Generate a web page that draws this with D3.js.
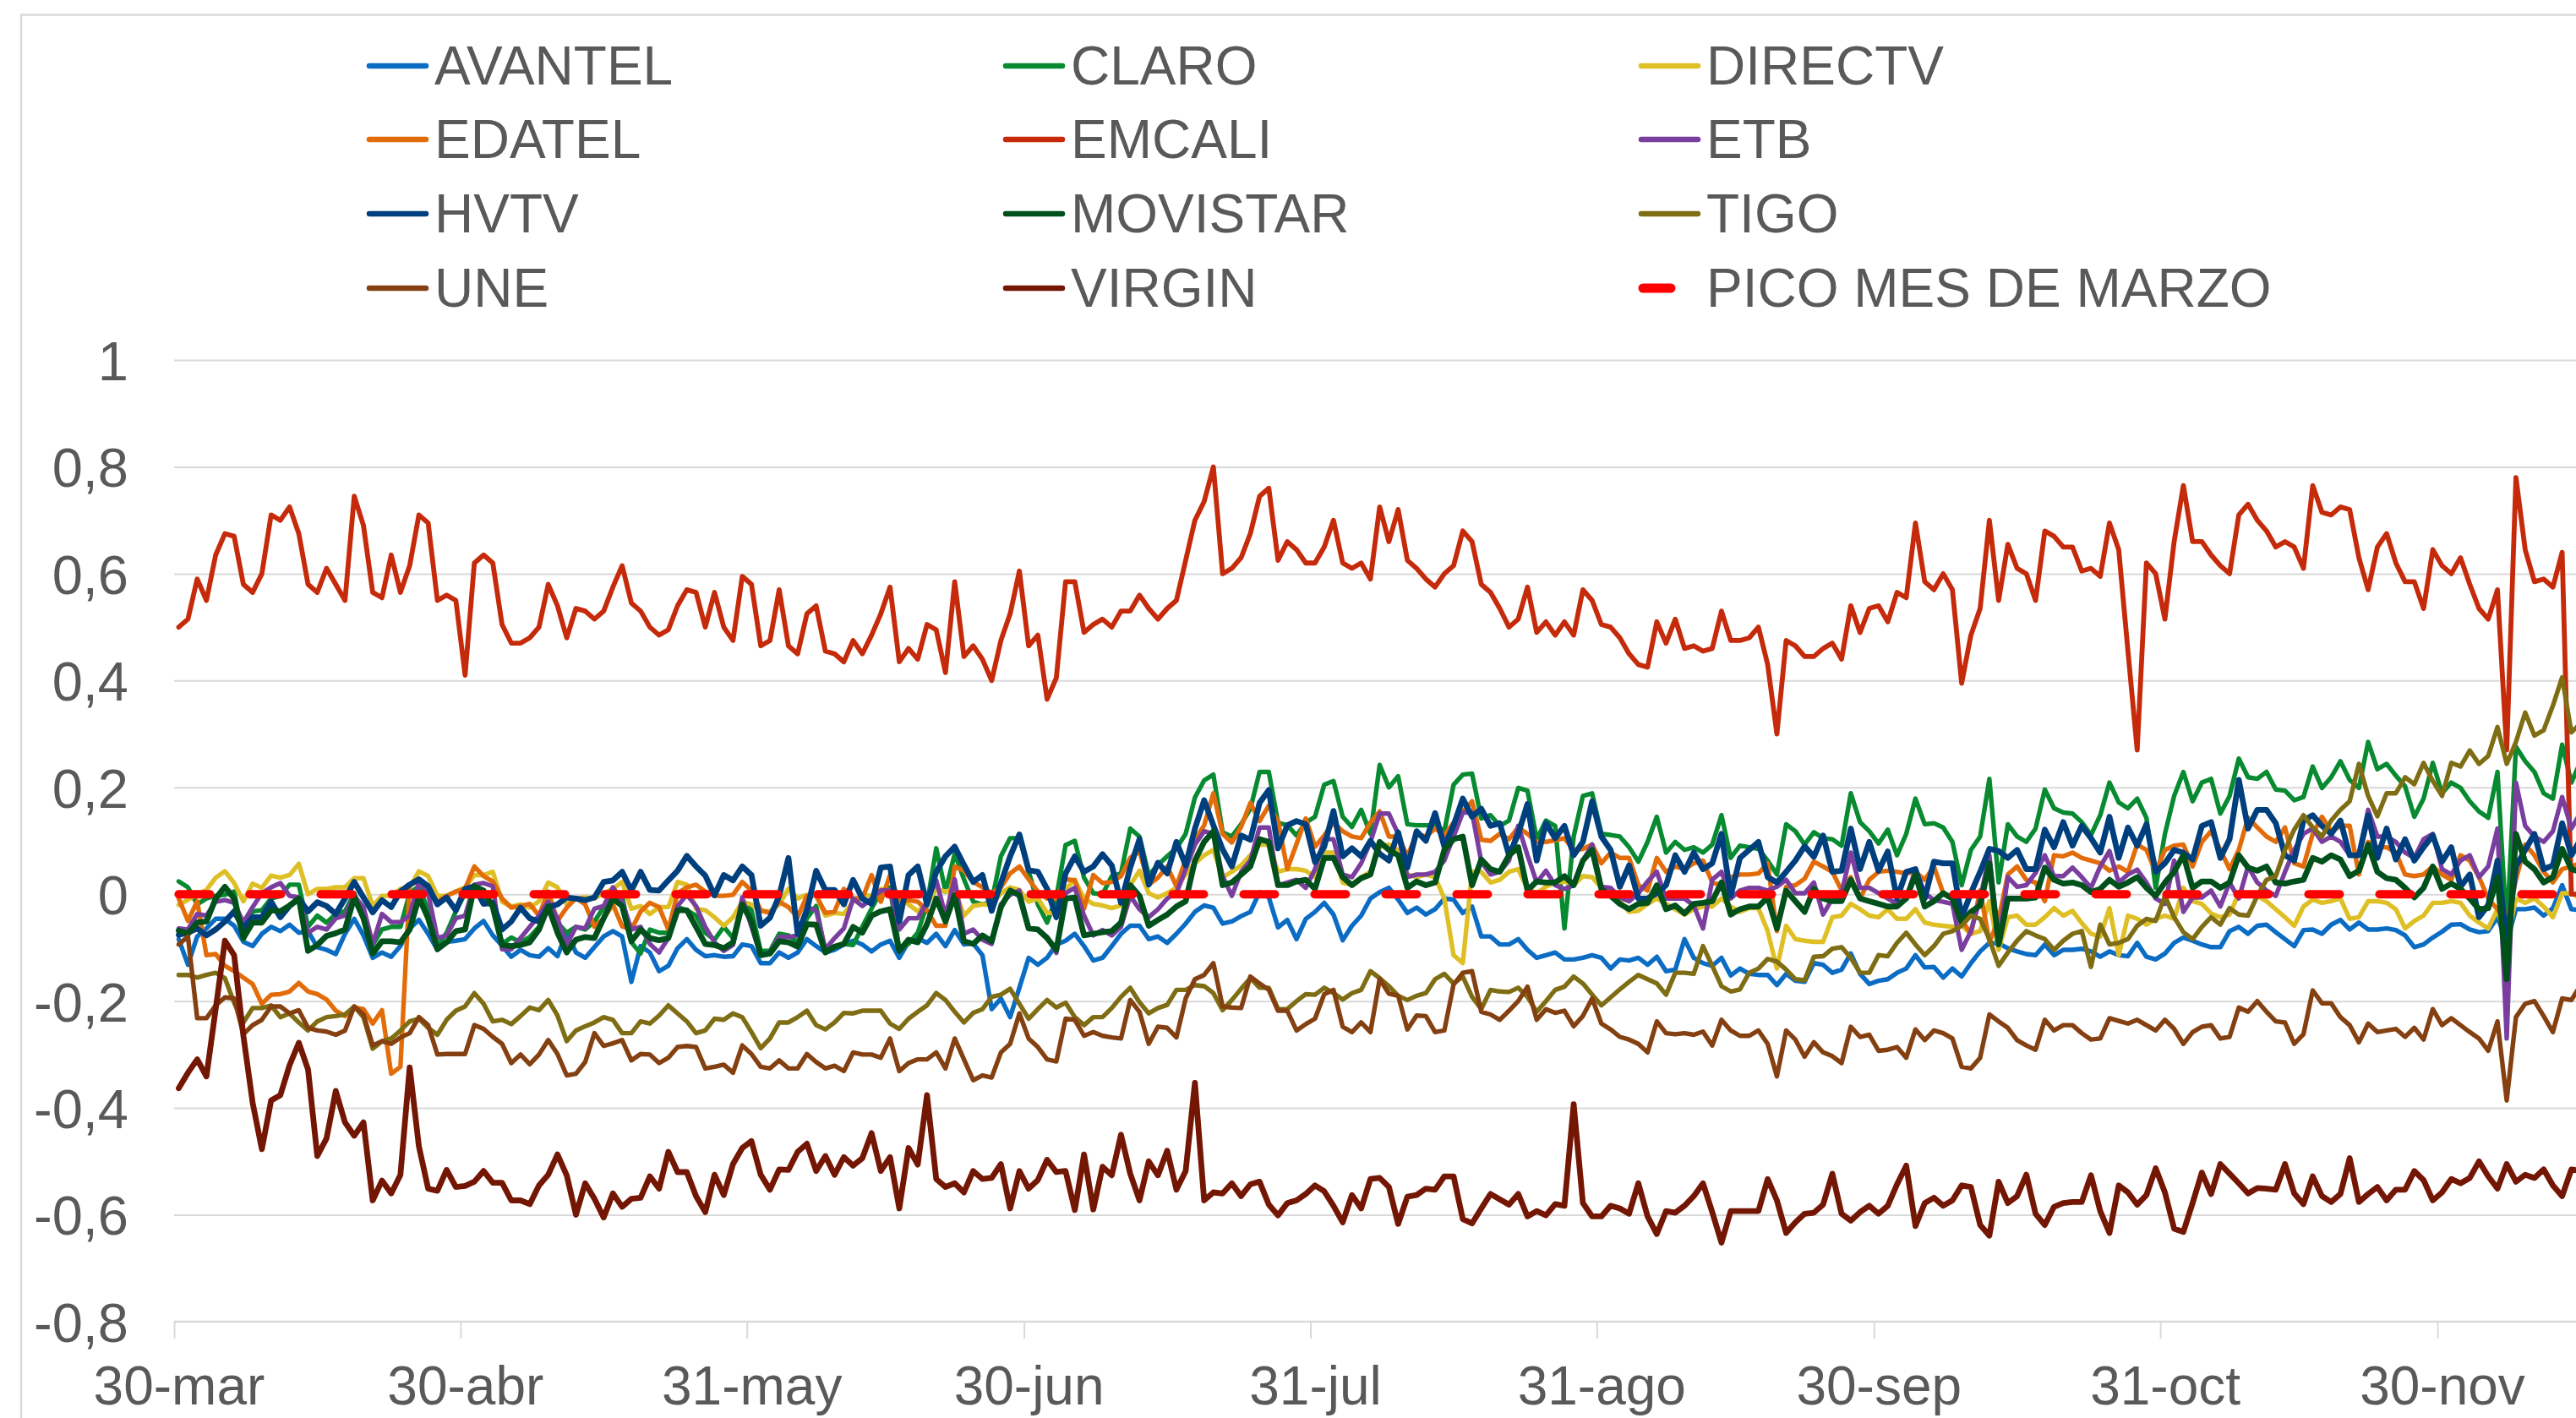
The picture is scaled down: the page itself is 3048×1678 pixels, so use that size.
<!DOCTYPE html>
<html><head><meta charset="utf-8">
<script src="https://cdn.jsdelivr.net/npm/d3@7"></script>
<style>html,body{margin:0;padding:0;background:#fff;overflow:hidden}svg{display:block}</style>
</head><body>
<svg id="chart" width="3048" height="1678"></svg>
<script>
// ---------------- DATA ----------------
const startDate = "2020-03-30";
const endDate = "2020-12-15";
const xTickDates = ["2020-03-30","2020-04-30","2020-05-31","2020-06-30","2020-07-31","2020-08-31","2020-09-30","2020-10-31","2020-11-30"];
const xTickLabels = ["30-mar","30-abr","31-may","30-jun","31-jul","31-ago","30-sep","31-oct","30-nov"];
const yTicks = [-0.8,-0.6,-0.4,-0.2,0,0.2,0.4,0.6,0.8,1];
const yTickLabels = ["-0,8","-0,6","-0,4","-0,2","0","0,2","0,4","0,6","0,8","1"];
const seriesNames = ["AVANTEL","CLARO","DIRECTV","EDATEL","EMCALI","ETB","HVTV","MOVISTAR","TIGO","UNE","VIRGIN","PICO MES DE MARZO"];
const picoMarzo = 0;

const AVANTEL = [
-0.084,-0.132,-0.079,-0.064,-0.046,-0.046,-0.059,-0.089,-0.097,-0.074,
-0.061,-0.069,-0.057,-0.072,-0.069,-0.099,-0.104,-0.112,-0.074,-0.046,
-0.077,-0.119,-0.109,-0.117,-0.097,-0.064,-0.048,-0.074,-0.104,-0.089,
-0.087,-0.084,-0.064,-0.05,-0.077,-0.096,-0.117,-0.104,-0.114,-0.117,
-0.101,-0.116,-0.071,-0.109,-0.119,-0.099,-0.079,-0.069,-0.079,-0.164,
-0.097,-0.109,-0.144,-0.134,-0.101,-0.084,-0.104,-0.116,-0.114,-0.117,
-0.116,-0.094,-0.097,-0.129,-0.129,-0.109,-0.119,-0.109,-0.084,-0.097,
-0.109,-0.104,-0.094,-0.087,-0.094,-0.107,-0.094,-0.087,-0.119,-0.089,
-0.082,-0.091,-0.074,-0.097,-0.067,-0.094,-0.092,-0.114,-0.215,-0.195,
-0.23,-0.175,-0.119,-0.132,-0.119,-0.094,-0.087,-0.074,-0.097,-0.124,
-0.119,-0.097,-0.074,-0.059,-0.059,-0.084,-0.079,-0.091,-0.074,-0.055,
-0.033,-0.021,-0.025,-0.055,-0.051,-0.041,-0.033,0.004,-0.006,-0.062,
-0.048,-0.084,-0.046,-0.033,-0.016,-0.038,-0.086,-0.059,-0.04,-0.008,
0.004,0.012,-0.01,-0.035,-0.025,-0.038,-0.028,-0.008,-0.01,-0.035,
-0.023,-0.079,-0.079,-0.094,-0.094,-0.084,-0.104,-0.119,-0.114,-0.109,
-0.122,-0.122,-0.119,-0.114,-0.119,-0.139,-0.122,-0.124,-0.119,-0.132,
-0.117,-0.144,-0.141,-0.084,-0.119,-0.129,-0.134,-0.119,-0.152,-0.139,
-0.149,-0.151,-0.151,-0.17,-0.149,-0.162,-0.164,-0.129,-0.132,-0.147,
-0.141,-0.111,-0.149,-0.168,-0.162,-0.159,-0.147,-0.139,-0.114,-0.137,
-0.136,-0.156,-0.139,-0.154,-0.129,-0.107,-0.091,-0.092,-0.101,-0.107,
-0.112,-0.114,-0.094,-0.114,-0.104,-0.104,-0.102,-0.107,-0.117,-0.107,
-0.114,-0.116,-0.091,-0.117,-0.122,-0.111,-0.091,-0.081,-0.087,-0.094,
-0.099,-0.099,-0.069,-0.061,-0.074,-0.059,-0.057,-0.071,-0.084,-0.097,
-0.067,-0.066,-0.074,-0.057,-0.048,-0.066,-0.053,-0.066,-0.066,-0.064,
-0.067,-0.077,-0.099,-0.094,-0.081,-0.07,-0.057,-0.056,-0.066,-0.071,
-0.069,-0.043,-0.089,-0.028,-0.028,-0.025,-0.04,-0.026,0.017,-0.028,
-0.03];

const CLARO = [
0.024,0.013,-0.019,-0.008,-0.003,-0.001,0.005,-0.085,-0.032,-0.03,
-0.008,-0.003,0.018,0.018,-0.061,-0.04,-0.053,-0.037,-0.032,0.002,
-0.04,-0.095,-0.066,-0.061,-0.061,0.002,0.015,-0.03,-0.098,-0.072,
-0.032,0.002,0.013,-0.003,-0.024,-0.093,-0.081,-0.09,-0.08,-0.061,
-0.024,-0.053,-0.072,-0.061,-0.066,-0.051,-0.024,-0.008,-0.003,-0.09,
-0.111,-0.066,-0.072,-0.072,-0.024,-0.03,-0.04,-0.072,-0.085,-0.061,
-0.082,-0.014,-0.03,-0.106,-0.106,-0.074,-0.077,-0.09,-0.045,-0.022,
-0.109,-0.098,-0.093,-0.095,-0.061,-0.027,0.005,0.013,-0.103,-0.093,
-0.072,-0.019,0.086,0.005,0.076,0.028,-0.014,-0.019,-0.014,0.071,
0.105,0.105,0.044,-0.019,-0.053,-0.006,0.092,0.1,0.031,0.002,
0,0.034,0.039,0.123,0.108,0.036,0.055,0.071,0.086,0.113,
0.181,0.213,0.224,0.116,0.108,0.131,0.16,0.229,0.229,0.134,
0.129,0.11,0.134,0.145,0.205,0.212,0.145,0.126,0.158,0.113,
0.242,0.2,0.221,0.131,0.129,0.129,0.129,0.118,0.205,0.224,
0.226,0.142,0.148,0.128,0.138,0.199,0.194,0.103,0.138,0.128,
-0.064,0.108,0.184,0.189,0.113,0.111,0.108,0.088,0.061,0.098,
0.145,0.078,0.098,0.083,0.088,0.078,0.093,0.148,0.068,0.091,
0.088,0.085,0.063,0.037,0.131,0.118,0.093,0.116,0.105,0.103,
0.091,0.189,0.135,0.118,0.095,0.121,0.073,0.113,0.179,0.131,
0.133,0.125,0.098,0.017,0.083,0.108,0.216,0.022,0.131,0.108,
0.098,0.123,0.196,0.161,0.153,0.151,0.135,0.111,0.148,0.209,
0.172,0.161,0.179,0.143,0.012,0.113,0.184,0.229,0.174,0.209,
0.216,0.151,0.184,0.254,0.219,0.216,0.229,0.196,0.194,0.176,
0.182,0.239,0.199,0.219,0.249,0.214,0.199,0.285,0.234,0.244,
0.222,0.202,0.145,0.179,0.246,0.189,0.209,0.199,0.174,0.155,
0.143,0.229,-0.069,0.276,0.249,0.229,0.189,0.179,0.28,0.209,
0.249];

const DIRECTV = [
-0.02,-0.01,0,0.008,0.031,0.043,0.021,-0.013,0.02,0.012,
0.035,0.031,0.036,0.057,0,0.01,0.01,0.013,0.013,0.03,
0.03,-0.022,-0.003,-0.003,0.01,0.013,0.043,0.034,-0.003,-0.003,
0.005,0.013,0.036,0.036,0.042,-0.014,-0.023,-0.019,-0.025,-0.013,
0.022,0.013,-0.019,-0.008,-0.006,-0.008,0.002,0.01,0.023,-0.027,
-0.022,-0.037,-0.024,-0.024,0.023,0.018,-0.027,-0.03,-0.043,-0.059,
-0.043,-0.014,-0.019,-0.032,-0.032,-0.019,0.01,-0.008,-0.001,-0.001,
-0.04,-0.035,-0.037,-0.014,-0.001,-0.003,0.01,0.007,-0.003,-0.019,
-0.032,-0.019,0.01,0.005,0.01,-0.04,-0.022,-0.019,-0.019,0.002,
0.013,0.008,-0.014,-0.008,-0.035,-0.035,0.01,0.027,-0.008,-0.018,
-0.021,-0.026,-0.021,0.017,0.044,0.002,-0.006,0.002,0.012,0.037,
0.058,0.073,0.083,0.032,0.042,0.054,0.073,0.093,0.093,0.042,
0.047,0.047,0.044,0.032,0.078,0.078,0.022,0.017,0.032,0.042,
0.088,0.093,0.083,0.037,0.032,0.037,0.032,-0.008,-0.114,-0.129,
0.042,0.042,0.022,0.027,0.042,0.047,0.01,0.002,0.014,0.022,
0.024,0.017,0.034,0.032,0.012,0.004,-0.013,-0.033,-0.031,-0.018,
-0.008,-0.018,-0.028,-0.038,-0.028,-0.023,-0.023,-0.008,-0.023,-0.033,
-0.026,-0.026,-0.069,-0.139,-0.059,-0.084,-0.087,-0.089,-0.089,-0.043,
-0.04,-0.018,-0.028,-0.04,-0.043,-0.028,-0.046,-0.046,-0.028,-0.053,
-0.057,-0.059,-0.061,-0.059,-0.074,-0.069,-0.013,-0.104,-0.043,-0.04,
-0.057,-0.057,-0.043,-0.026,-0.04,-0.031,-0.054,-0.074,-0.079,-0.026,
-0.114,-0.04,-0.046,-0.057,-0.046,-0.04,-0.046,0.012,-0.013,-0.018,
-0.036,-0.043,-0.038,0.002,-0.003,-0.003,-0.013,-0.028,-0.043,-0.059,
-0.023,-0.01,-0.016,-0.013,-0.008,-0.046,-0.043,-0.013,-0.013,-0.016,
-0.028,-0.064,-0.05,-0.04,-0.016,-0.016,-0.013,-0.016,-0.04,-0.053,
-0.064,-0.028,-0.089,-0.008,-0.016,-0.008,-0.023,-0.043,0.002,0.002,
-0.008];

const EDATEL = [
-0.008,-0.05,-0.013,-0.114,-0.112,-0.134,-0.144,-0.156,-0.168,-0.205,
-0.188,-0.187,-0.182,-0.166,-0.182,-0.187,-0.197,-0.218,-0.228,-0.212,
-0.215,-0.242,-0.217,-0.336,-0.323,0.018,0.025,0.002,-0.014,-0.003,
0.005,0.01,0.052,0.034,0.024,-0.008,-0.025,-0.022,-0.018,-0.04,
0.005,-0.05,-0.025,-0.007,-0.019,-0.061,-0.045,-0.019,-0.06,-0.066,
-0.032,-0.016,-0.024,-0.066,0.002,0.013,0.018,0.005,-0.003,-0.003,
-0.001,0.023,0.007,-0.03,-0.035,-0.014,-0.024,-0.043,-0.003,-0.003,
-0.035,-0.032,0.01,-0.008,-0.008,0.036,-0.014,0.036,-0.016,-0.011,
-0.014,-0.03,-0.059,-0.059,0.052,0.044,0.023,0.013,0.002,0.013,
0.039,0.052,0.028,0.005,-0.008,-0.008,0.028,0.026,-0.027,0.036,
0.021,0.023,0.034,0.068,0.081,0.018,0.031,0.052,0.015,0.065,
0.102,0.129,0.189,0.113,0.097,0.126,0.171,0.137,0.166,0.137,
0.047,0.094,0.142,0.089,0.11,0.134,0.118,0.108,0.105,0.134,
0.155,0.108,0.108,0.071,0.113,0.108,0.123,0.11,0.134,0.155,
0.174,0.102,0.1,0.113,0.103,0.125,0.113,0.098,0.098,0.101,
0.105,0.083,0.085,0.093,0.058,0.078,0.068,0.068,0.017,0.007,
0.068,0.042,0.052,0.047,0.058,0.063,0.022,0.017,0.032,0.037,
0.037,0.039,0.058,-0.069,0.014,0.017,0.029,0.061,0.052,0.042,
0.007,0.032,-0.008,0.027,0.042,0.044,0.042,0.039,0.042,0.027,
0.052,0.002,-0.008,-0.048,-0.074,0.007,-0.089,-0.048,0.037,0.052,
0.027,0.022,-0.013,0.073,0.071,0.078,0.068,0.063,0.058,0.044,
0.052,0.042,0.093,0.083,0.042,0.083,0.091,0.093,0.052,0.098,
0.118,0.083,0.047,0.083,0.143,0.125,0.108,0.098,0.125,0.058,
0.052,0.113,0.145,0.118,0.128,0.128,0.037,0.098,0.088,0.088,
0.078,0.037,0.034,0.037,0.052,0.037,0.027,0.073,0.063,0.032,
-0.008,-0.028,-0.053,0.027,0.093,0.073,0.042,0.022,0.047,0.052,
0.058];

const EMCALI = [
0.5,0.515,0.59,0.55,0.635,0.675,0.67,0.58,0.565,0.6,
0.71,0.7,0.725,0.675,0.58,0.565,0.61,0.58,0.55,0.745,
0.69,0.565,0.555,0.635,0.565,0.615,0.71,0.695,0.55,0.56,
0.55,0.41,0.62,0.635,0.62,0.505,0.47,0.47,0.48,0.5,
0.58,0.54,0.48,0.535,0.53,0.515,0.53,0.575,0.615,0.545,
0.53,0.5,0.485,0.495,0.54,0.57,0.565,0.5,0.565,0.5,
0.475,0.595,0.58,0.465,0.475,0.57,0.465,0.45,0.525,0.54,
0.455,0.45,0.435,0.475,0.45,0.485,0.525,0.575,0.435,0.46,
0.44,0.505,0.495,0.415,0.585,0.445,0.465,0.44,0.4,0.475,
0.525,0.605,0.465,0.485,0.365,0.405,0.585,0.585,0.49,0.505,
0.515,0.5,0.53,0.53,0.56,0.535,0.515,0.535,0.55,0.625,
0.7,0.735,0.8,0.6,0.61,0.63,0.675,0.745,0.76,0.625,
0.66,0.645,0.62,0.62,0.65,0.7,0.62,0.61,0.62,0.59,
0.725,0.66,0.72,0.625,0.61,0.59,0.575,0.6,0.615,0.68,
0.66,0.58,0.565,0.535,0.5,0.515,0.575,0.49,0.51,0.485,
0.51,0.485,0.57,0.55,0.505,0.5,0.48,0.45,0.43,0.425,
0.51,0.47,0.515,0.46,0.465,0.455,0.46,0.53,0.475,0.475,
0.48,0.5,0.43,0.3,0.475,0.465,0.445,0.445,0.46,0.47,
0.44,0.54,0.49,0.535,0.54,0.51,0.565,0.555,0.695,0.585,
0.57,0.6,0.57,0.395,0.485,0.535,0.7,0.55,0.655,0.61,
0.6,0.55,0.68,0.67,0.65,0.65,0.605,0.61,0.595,0.695,
0.645,0.455,0.27,0.62,0.6,0.515,0.66,0.765,0.66,0.66,
0.635,0.615,0.6,0.71,0.73,0.7,0.68,0.65,0.66,0.65,
0.61,0.765,0.715,0.71,0.725,0.72,0.63,0.57,0.65,0.675,
0.62,0.585,0.585,0.535,0.645,0.615,0.6,0.63,0.58,0.535,
0.515,0.57,0.27,0.78,0.645,0.585,0.59,0.575,0.64,0,
0];

const ETB = [
-0.064,-0.066,-0.037,-0.04,-0.014,-0.011,-0.016,-0.053,-0.024,0.002,
0.013,0.021,-0.003,-0.006,-0.072,-0.061,-0.066,-0.045,-0.04,-0.003,
-0.024,-0.093,-0.037,-0.052,-0.052,-0.04,0.023,0.002,-0.082,-0.077,
-0.045,-0.04,0.018,0.021,0.015,-0.103,-0.103,-0.082,-0.061,-0.04,
-0.014,-0.045,-0.095,-0.061,-0.064,-0.027,-0.022,0.013,-0.014,-0.066,
-0.061,-0.093,-0.109,-0.082,-0.022,-0.001,-0.022,-0.061,-0.09,-0.106,
-0.095,-0.006,-0.061,-0.114,-0.109,-0.08,-0.08,-0.077,-0.024,-0.03,
-0.103,-0.082,-0.064,-0.008,-0.022,-0.008,0.007,0.007,-0.066,-0.045,
-0.045,-0.014,0.026,-0.04,0.028,-0.074,-0.066,-0.085,-0.093,-0.019,
-0.001,0.007,-0.064,-0.066,-0.08,-0.11,0.002,0.012,-0.04,-0.077,
-0.067,-0.077,-0.061,-0.003,-0.028,-0.043,-0.028,-0.008,0.002,0.047,
0.093,0.118,0.113,0.034,-0.003,0.042,0.063,0.125,0.125,0.017,
0.022,0.027,0.012,0.047,0.103,0.103,0.037,0.032,0.058,0.098,
0.151,0.151,0.113,0.032,0.037,0.037,0.042,0.063,0.108,0.153,
0.153,0.061,0.037,0.042,0.063,0.128,0.073,0.022,0.044,0.017,
0.01,0.017,0.063,0.093,0.014,0.012,-0.006,-0.013,0.002,0.024,
0.042,-0.008,-0.008,-0.008,-0.021,-0.064,0.027,0.042,-0.008,0.007,
0.012,0.012,0.007,0.014,0.027,0.002,0.002,0.022,-0.038,-0.008,
0.002,0.078,0.012,0.012,0.002,-0.008,-0.018,-0.008,0.047,0.002,
-0.011,-0.014,-0.018,-0.104,-0.069,-0.008,0.073,-0.089,0.032,0.014,
0.017,0.04,0.073,0.034,0.034,0.05,0.032,0.012,0.052,0.081,
0.022,0.037,0.046,0.022,-0.008,-0.018,0.063,-0.033,-0.006,-0.006,
0.007,-0.023,0.022,-0.008,0.052,0.022,0.007,-0.003,0.042,0.083,
0.113,0.123,0.098,0.108,0.098,0.073,0.073,0.158,0.108,0.108,
0.098,0.078,0.068,0.103,0.113,0.047,0.037,0.063,0.073,0.032,
0.052,0.123,-0.27,0.209,0.128,0.108,0.098,0.118,0.182,0.123,
0.153];

const HVTV = [
-0.076,-0.072,-0.064,-0.077,-0.066,-0.051,-0.032,-0.064,-0.043,-0.043,
-0.014,-0.043,-0.022,-0.008,-0.032,-0.015,-0.022,-0.037,-0.008,0.023,
-0.006,-0.034,-0.011,-0.024,0.005,0.018,0.028,0.015,-0.019,-0.006,
-0.03,0.01,0.015,-0.018,-0.016,-0.066,-0.051,-0.025,-0.045,-0.051,
-0.024,-0.019,-0.006,-0.008,-0.011,-0.006,0.023,0.026,0.042,0.007,
0.042,0.008,0.007,0.026,0.044,0.072,0.052,0.035,-0.002,0.036,
0.026,0.052,0.036,-0.059,-0.044,-0.003,0.068,-0.074,-0.03,0.044,
0.008,0.008,-0.019,0.027,-0.008,-0.018,0.05,0.052,-0.051,0.036,
0.052,-0.019,0.042,0.071,0.089,0.055,0.023,0.036,-0.031,0.021,
0.071,0.112,0.045,0.042,0.01,-0.043,0.039,0.071,0.042,0.052,
0.075,0.054,-0.016,0.05,0.103,0.018,0.059,0.039,0.098,0.054,
0.123,0.176,0.129,0.084,0.052,0.11,0.102,0.171,0.195,0.086,
0.129,0.137,0.131,0.06,0.089,0.156,0.071,0.086,0.071,0.1,
0.076,0.063,0.116,0.05,0.118,0.1,0.152,0.089,0.129,0.179,
0.145,0.16,0.128,0.133,0.073,0.113,0.169,0.063,0.133,0.105,
0.128,0.073,0.098,0.174,0.108,0.083,0.014,0.054,-0.008,-0.008,
0.002,0.017,0.073,0.042,0.078,0.047,0.058,0.113,-0.003,0.068,
0.083,0.098,0.032,0.022,0.042,0.063,0.09,0.07,0.11,0.042,
0.044,0.123,0.047,0.098,0.044,0.08,-0.008,0.042,0.047,-0.008,
0.061,0.058,0.058,-0.043,0.002,0.042,0.085,0.081,0.068,0.083,
0.047,0.047,0.121,0.088,0.135,0.091,0.128,0.105,0.078,0.145,
0.068,0.125,0.091,0.131,0.042,0.058,0.083,0.078,0.065,0.128,
0.135,0.068,0.103,0.214,0.123,0.158,0.158,0.133,0.073,0.063,
0.138,0.148,0.128,0.113,0.138,0.073,0.073,0.148,0.068,0.123,
0.065,0.103,0.063,0.088,0.11,0.061,0.088,0.014,0.037,-0.043,
-0.02,0.063,-0.089,0.052,0.083,0.113,0.047,0.054,0.133,0.073,
0.103];

const MOVISTAR = [
-0.068,-0.074,-0.053,-0.051,-0.008,0.014,-0.008,-0.082,-0.053,-0.053,
-0.03,-0.032,-0.021,-0.008,-0.106,-0.095,-0.078,-0.073,-0.066,-0.006,
-0.045,-0.111,-0.088,-0.088,-0.09,-0.066,-0.006,-0.045,-0.103,-0.09,
-0.069,-0.066,0.015,0.007,-0.024,-0.095,-0.097,-0.095,-0.09,-0.066,
-0.023,-0.072,-0.109,-0.085,-0.08,-0.082,-0.045,-0.008,-0.022,-0.088,
-0.066,-0.082,-0.086,-0.082,-0.03,-0.03,-0.061,-0.093,-0.095,-0.101,
-0.09,-0.019,-0.051,-0.114,-0.111,-0.088,-0.09,-0.098,-0.056,-0.057,
-0.109,-0.098,-0.093,-0.061,-0.072,-0.04,-0.032,-0.028,-0.106,-0.085,
-0.09,-0.056,-0.008,-0.051,-0.002,-0.088,-0.093,-0.077,-0.088,-0.024,
0.007,-0.002,-0.064,-0.066,-0.082,-0.104,-0.008,-0.006,-0.077,-0.074,
-0.071,-0.069,-0.053,0.017,-0.003,-0.059,-0.048,-0.038,-0.023,-0.013,
0.063,0.098,0.118,0.017,0.022,0.037,0.052,0.103,0.098,0.017,
0.017,0.024,0.027,0.01,0.068,0.068,0.032,0.017,0.03,0.037,
0.098,0.083,0.073,0.012,0.024,0.017,0.022,0.083,0.103,0.108,
0.017,0.065,0.047,0.042,0.073,0.088,0.007,0.024,0.022,0.022,
0.034,0.017,0.063,0.083,0.01,-0.003,-0.018,-0.028,-0.018,-0.016,
0.017,-0.028,-0.021,-0.036,-0.018,-0.016,-0.013,0.022,-0.038,-0.028,
-0.023,-0.023,-0.006,-0.064,0.007,-0.013,-0.033,0.01,-0.008,-0.013,
-0.013,0.027,-0.008,-0.013,-0.018,-0.023,-0.023,-0.008,0.037,-0.023,
-0.013,0.002,-0.008,-0.053,-0.033,-0.021,0.058,-0.094,-0.008,-0.008,
-0.008,-0.006,0.05,0.027,0.02,0.022,0.017,0.004,0.01,0.027,
0.014,0.022,0.032,0.012,-0.003,0.022,0.042,0.073,0.012,0.024,
0.024,0.012,0.022,0.073,0.05,0.044,0.052,0.022,0.02,0.024,
0.027,0.068,0.061,0.073,0.065,0.034,0.044,0.093,0.042,0.03,
0.027,0.012,-0.006,0.012,0.052,0.01,0.02,0.01,-0.008,-0.028,
-0.026,0.032,-0.159,0.113,0.061,0.047,0.022,0.032,0.085,0.047,
0.042];

const TIGO = [
-0.151,-0.151,-0.156,-0.151,-0.147,-0.157,-0.203,-0.24,-0.213,-0.213,
-0.208,-0.23,-0.223,-0.24,-0.255,-0.238,-0.23,-0.228,-0.225,-0.21,
-0.23,-0.289,-0.275,-0.27,-0.255,-0.238,-0.233,-0.25,-0.263,-0.235,
-0.218,-0.21,-0.185,-0.205,-0.238,-0.235,-0.243,-0.228,-0.212,-0.217,
-0.198,-0.227,-0.275,-0.255,-0.247,-0.24,-0.23,-0.235,-0.26,-0.26,
-0.238,-0.242,-0.227,-0.208,-0.223,-0.238,-0.26,-0.255,-0.233,-0.235,
-0.223,-0.23,-0.258,-0.288,-0.27,-0.24,-0.24,-0.23,-0.218,-0.245,
-0.253,-0.24,-0.222,-0.223,-0.218,-0.218,-0.218,-0.242,-0.252,-0.233,
-0.22,-0.208,-0.185,-0.198,-0.22,-0.24,-0.222,-0.215,-0.192,-0.188,
-0.177,-0.205,-0.233,-0.215,-0.198,-0.212,-0.203,-0.23,-0.245,-0.23,
-0.23,-0.213,-0.192,-0.175,-0.202,-0.223,-0.213,-0.207,-0.179,-0.179,
-0.17,-0.172,-0.185,-0.217,-0.198,-0.177,-0.157,-0.175,-0.175,-0.215,
-0.215,-0.2,-0.187,-0.188,-0.175,-0.185,-0.197,-0.185,-0.179,-0.144,
-0.157,-0.172,-0.19,-0.198,-0.19,-0.185,-0.159,-0.149,-0.167,-0.154,
-0.192,-0.215,-0.179,-0.182,-0.183,-0.175,-0.192,-0.22,-0.2,-0.179,
-0.173,-0.154,-0.167,-0.188,-0.208,-0.193,-0.178,-0.164,-0.151,-0.159,
-0.167,-0.188,-0.147,-0.147,-0.149,-0.097,-0.134,-0.172,-0.182,-0.178,
-0.147,-0.139,-0.121,-0.126,-0.141,-0.159,-0.161,-0.117,-0.116,-0.102,
-0.099,-0.119,-0.147,-0.147,-0.114,-0.116,-0.091,-0.072,-0.094,-0.114,
-0.097,-0.074,-0.069,-0.059,-0.04,-0.046,-0.084,-0.134,-0.109,-0.087,
-0.069,-0.077,-0.084,-0.104,-0.087,-0.074,-0.069,-0.136,-0.057,-0.094,
-0.091,-0.084,-0.059,-0.046,-0.05,-0.003,-0.043,-0.071,-0.084,-0.061,
-0.043,-0.057,-0.026,-0.038,-0.04,-0.003,0.027,0.034,0.083,0.121,
0.148,0.125,0.108,0.138,0.158,0.174,0.244,0.184,0.146,0.189,
0.189,0.219,0.206,0.246,0.212,0.184,0.246,0.239,0.269,0.244,
0.259,0.313,0.244,0.285,0.34,0.297,0.307,0.353,0.406,0.303,
0.32];

const UNE = [
-0.094,-0.079,-0.232,-0.232,-0.208,-0.193,-0.195,-0.262,-0.245,-0.235,
-0.21,-0.21,-0.223,-0.217,-0.25,-0.255,-0.257,-0.263,-0.255,-0.21,
-0.225,-0.283,-0.275,-0.28,-0.268,-0.26,-0.23,-0.245,-0.3,-0.299,
-0.299,-0.299,-0.245,-0.252,-0.267,-0.28,-0.316,-0.3,-0.318,-0.3,
-0.273,-0.299,-0.339,-0.336,-0.314,-0.26,-0.284,-0.279,-0.273,-0.311,
-0.299,-0.3,-0.316,-0.306,-0.286,-0.284,-0.286,-0.326,-0.323,-0.319,
-0.334,-0.283,-0.299,-0.323,-0.326,-0.311,-0.326,-0.326,-0.299,-0.314,
-0.326,-0.321,-0.331,-0.296,-0.3,-0.3,-0.306,-0.27,-0.331,-0.316,
-0.309,-0.309,-0.296,-0.326,-0.27,-0.309,-0.348,-0.339,-0.343,-0.296,
-0.28,-0.223,-0.27,-0.286,-0.309,-0.313,-0.233,-0.235,-0.265,-0.258,
-0.265,-0.268,-0.27,-0.198,-0.22,-0.28,-0.248,-0.25,-0.268,-0.195,
-0.159,-0.151,-0.129,-0.21,-0.212,-0.213,-0.154,-0.167,-0.179,-0.218,
-0.218,-0.255,-0.243,-0.233,-0.187,-0.179,-0.248,-0.258,-0.24,-0.258,
-0.159,-0.186,-0.19,-0.253,-0.227,-0.228,-0.258,-0.255,-0.169,-0.147,
-0.144,-0.22,-0.225,-0.235,-0.218,-0.2,-0.173,-0.235,-0.215,-0.222,
-0.218,-0.247,-0.228,-0.195,-0.242,-0.253,-0.267,-0.272,-0.28,-0.296,
-0.238,-0.26,-0.262,-0.26,-0.263,-0.257,-0.283,-0.235,-0.255,-0.265,
-0.265,-0.255,-0.28,-0.341,-0.255,-0.272,-0.304,-0.277,-0.296,-0.303,
-0.316,-0.248,-0.267,-0.263,-0.293,-0.291,-0.286,-0.306,-0.253,-0.273,
-0.255,-0.26,-0.27,-0.323,-0.326,-0.306,-0.225,-0.238,-0.25,-0.273,
-0.283,-0.291,-0.235,-0.255,-0.245,-0.245,-0.26,-0.272,-0.27,-0.232,
-0.237,-0.242,-0.235,-0.245,-0.255,-0.235,-0.252,-0.28,-0.258,-0.248,
-0.245,-0.27,-0.267,-0.212,-0.22,-0.2,-0.22,-0.238,-0.24,-0.28,
-0.262,-0.18,-0.204,-0.204,-0.23,-0.245,-0.277,-0.242,-0.258,-0.255,
-0.252,-0.267,-0.25,-0.272,-0.215,-0.245,-0.232,-0.245,-0.258,-0.27,
-0.293,-0.238,-0.386,-0.23,-0.205,-0.2,-0.228,-0.258,-0.195,-0.198,
-0.17];

const VIRGIN = [
-0.363,-0.334,-0.309,-0.341,-0.215,-0.087,-0.114,-0.265,-0.39,-0.477,
-0.386,-0.376,-0.32,-0.278,-0.328,-0.49,-0.457,-0.368,-0.427,-0.452,
-0.427,-0.573,-0.536,-0.56,-0.525,-0.324,-0.472,-0.551,-0.555,-0.516,
-0.548,-0.546,-0.538,-0.518,-0.54,-0.54,-0.573,-0.573,-0.58,-0.545,
-0.525,-0.487,-0.526,-0.6,-0.541,-0.57,-0.605,-0.56,-0.585,-0.57,
-0.568,-0.528,-0.551,-0.482,-0.52,-0.52,-0.565,-0.595,-0.525,-0.563,
-0.505,-0.475,-0.462,-0.525,-0.553,-0.515,-0.516,-0.482,-0.467,-0.518,
-0.49,-0.525,-0.492,-0.508,-0.494,-0.447,-0.518,-0.492,-0.588,-0.475,
-0.506,-0.376,-0.533,-0.548,-0.541,-0.558,-0.518,-0.533,-0.531,-0.505,
-0.588,-0.518,-0.551,-0.535,-0.497,-0.52,-0.518,-0.591,-0.487,-0.59,
-0.51,-0.526,-0.45,-0.523,-0.573,-0.5,-0.526,-0.48,-0.553,-0.518,
-0.353,-0.573,-0.558,-0.56,-0.541,-0.565,-0.543,-0.538,-0.581,-0.601,
-0.578,-0.573,-0.561,-0.545,-0.556,-0.583,-0.614,-0.563,-0.588,-0.533,
-0.531,-0.548,-0.617,-0.566,-0.563,-0.551,-0.553,-0.528,-0.528,-0.608,
-0.616,-0.588,-0.561,-0.571,-0.581,-0.561,-0.603,-0.593,-0.601,-0.58,
-0.583,-0.393,-0.578,-0.603,-0.603,-0.583,-0.588,-0.598,-0.541,-0.603,
-0.636,-0.593,-0.596,-0.583,-0.565,-0.541,-0.595,-0.652,-0.593,-0.593,
-0.593,-0.593,-0.533,-0.573,-0.634,-0.614,-0.598,-0.596,-0.581,-0.523,
-0.598,-0.611,-0.595,-0.583,-0.598,-0.583,-0.543,-0.508,-0.621,-0.578,
-0.568,-0.583,-0.573,-0.545,-0.548,-0.619,-0.639,-0.538,-0.578,-0.565,
-0.525,-0.598,-0.619,-0.585,-0.578,-0.576,-0.576,-0.526,-0.593,-0.634,
-0.545,-0.558,-0.581,-0.563,-0.513,-0.558,-0.626,-0.632,-0.578,-0.521,
-0.561,-0.505,-0.523,-0.541,-0.56,-0.55,-0.551,-0.553,-0.505,-0.56,
-0.58,-0.528,-0.565,-0.576,-0.561,-0.494,-0.576,-0.561,-0.548,-0.573,
-0.553,-0.553,-0.518,-0.535,-0.573,-0.558,-0.533,-0.541,-0.531,-0.5,
-0.528,-0.551,-0.505,-0.538,-0.525,-0.531,-0.515,-0.545,-0.565,-0.515,
-0.518];

const seriesValues = [AVANTEL, CLARO, DIRECTV, EDATEL, EMCALI, ETB, HVTV, MOVISTAR, TIGO, UNE, VIRGIN];

// ---------------- STYLE ----------------
const W = 3048, H = 1678;
const plot = {left: 206, right: 3048, top: 426, bottom: 1564};
const colors = ["#0b6cc4","#078a30","#dfbf26","#e36c0a","#c52a0b","#7a3e9e","#003f7d","#00501c","#7f6d14","#844010","#741604","#ff0000"];
const widths = [5.4,5.4,5.4,5.4,5.8,5.4,6.8,6.8,5.4,5.4,6.8];
const textColor = "#595959";
const gridColor = "#d9d9d9";
const fontFamily = "'Liberation Sans', Arial, sans-serif";
const dash = "37,47";

const svg = d3.select("#chart");
svg.append("rect").attr("width", W).attr("height", H).attr("fill", "#fff");
// chart area border (left & top visible)
svg.append("rect").attr("x", 25).attr("y", 17.5).attr("width", W + 50).attr("height", H + 50)
  .attr("fill", "none").attr("stroke", gridColor).attr("stroke-width", 2.5);

const parse = d3.utcParse("%Y-%m-%d");
const t0 = parse(startDate), t1 = parse(endDate);
const x = d3.scaleUtc().domain([t0, t1]).range([plot.left, plot.right]);
const y = d3.scaleLinear().domain([-0.8, 1]).range([plot.bottom, plot.top]);
const DAY = 864e5;
const dayPos = i => new Date(t0.getTime() + (i + 0.5) * DAY);

// gridlines
const grid = svg.append("g").attr("transform", `translate(${plot.left},0)`)
  .call(d3.axisLeft(y).tickValues(yTicks.filter(v => v > -0.8)).tickSize(-(plot.right - plot.left)).tickFormat(""));
grid.select(".domain").remove();
grid.selectAll("line").attr("stroke", gridColor).attr("stroke-width", 2);

// y axis labels
const yAxis = svg.append("g").attr("transform", `translate(${plot.left},0)`)
  .call(d3.axisLeft(y).tickValues(yTicks).tickSize(0).tickPadding(54)
    .tickFormat((d, i) => yTickLabels[i]));
yAxis.select(".domain").remove();
yAxis.selectAll("text").attr("fill", textColor).style("font-family", fontFamily).style("font-size", "65px").attr("dy", "0.36em");

// x axis
const xAxis = svg.append("g").attr("transform", `translate(0,${plot.bottom})`)
  .call(d3.axisBottom(x).tickValues(xTickDates.map(parse)).tickSize(20).tickPadding(33)
    .tickFormat((d, i) => xTickLabels[i]));
xAxis.select(".domain").attr("stroke", gridColor).attr("stroke-width", 2.5).attr("d", `M${plot.left},0H${plot.right + 10}`);
xAxis.selectAll("line").attr("stroke", gridColor).attr("stroke-width", 2);
xAxis.selectAll("text").attr("fill", textColor).style("font-family", fontFamily).style("font-size", "64px")
  .attr("x", x(dayPos(0)) - x(t0));

// series lines
const line = d3.line().x((v, i) => x(dayPos(i))).y(v => y(v));
const lines = svg.append("g");
seriesValues.forEach((vals, k) => {
  lines.append("path").datum(vals).attr("d", line)
    .attr("fill", "none").attr("stroke", colors[k]).attr("stroke-width", widths[k])
    .attr("stroke-linejoin", "round").attr("stroke-linecap", "round");
});
// PICO MES DE MARZO reference line
const nDays = EMCALI.length;
lines.append("path")
  .datum([[dayPos(0), picoMarzo], [dayPos(nDays - 1), picoMarzo]])
  .attr("d", d3.line().x(d => x(d[0])).y(d => y(d[1])))
  .attr("fill", "none").attr("stroke", colors[11]).attr("stroke-width", 10)
  .attr("stroke-dasharray", dash).attr("stroke-linecap", "round");

// legend
const legCols = [434, 1187, 1939];
const legRows = [78, 165, 253, 341];
const legend = svg.append("g");
seriesNames.forEach((name, k) => {
  const cx = legCols[k % 3], cy = legRows[Math.floor(k / 3)];
  const g = legend.append("g");
  if (k < 11) {
    g.append("line").attr("x1", cx + 3).attr("x2", cx + 70).attr("y1", cy).attr("y2", cy)
      .attr("stroke", colors[k]).attr("stroke-width", 6.5).attr("stroke-linecap", "round");
  } else {
    g.append("line").attr("x1", cx + 5).attr("x2", cx + 73).attr("y1", cy).attr("y2", cy)
      .attr("stroke", colors[k]).attr("stroke-width", 11).attr("stroke-linecap", "round")
      .attr("stroke-dasharray", "33,60");
  }
  g.append("text").attr("x", cx + 80).attr("y", cy + 22).text(name)
    .attr("fill", textColor).style("font-family", fontFamily).style("font-size", "64px");
});
</script>
</body></html>
